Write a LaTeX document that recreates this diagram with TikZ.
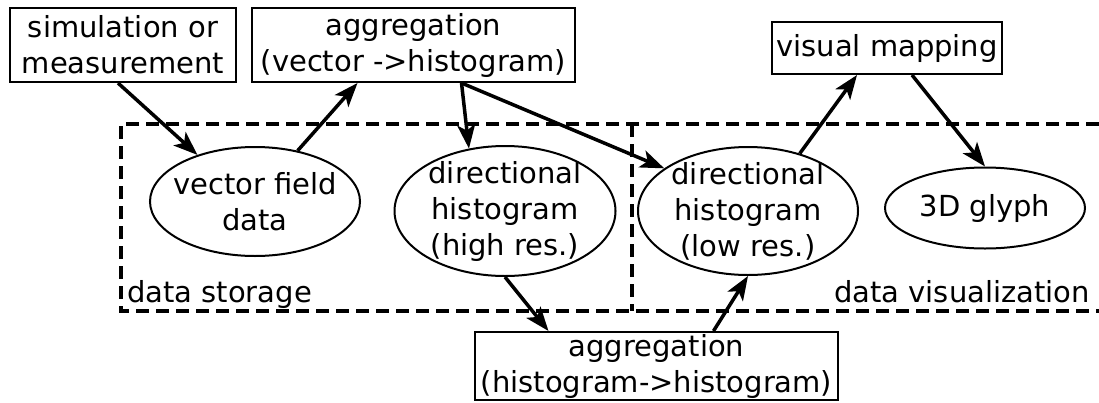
\documentclass[tikz,border=0pt]{standalone}
\usepackage{fontspec}
\setmainfont{DejaVu Sans}
\usetikzlibrary{arrows.meta,shapes.geometric}
\begin{document}
\begin{tikzpicture}[x=1pt,y=-1pt,
  every node/.style={font=\fontsize{29}{36}\selectfont},
  box/.style={draw, line width=2pt, rectangle, inner sep=0pt, align=center},
  oval/.style={draw, line width=2pt, ellipse, inner sep=-10pt, align=center},
  flowtip/.tip={Stealth[length=24pt 0, width=18pt 0, inset=6pt 0]},
  flow/.style={line width=3.5pt, -flowtip},
  region/.style={line width=4pt, dash pattern=on 13pt off 7pt},
  tag/.style={inner sep=0pt}]
\useasboundingbox (0,0) rectangle (1099,402);

% storage / visualization regions
\draw[region] (1099,124) -- (121,124) -- (121,311) -- (1099,311);
\draw[region] (632,124) -- (632,311);
\node[tag, anchor=base west] (lstore) at (127,302) {data storage};
\node[tag, anchor=base east] (lvis) at (1090,302) {data visualization};

% processing steps
\node[box, minimum width=226pt, minimum height=74pt] (b1) at (123,45) {simulation or\\measurement};
\node[box, minimum width=323pt, minimum height=74pt] (b2) at (413.5,45) {aggregation\\(vector ->histogram)};
\node[box, minimum width=230pt, minimum height=52pt] (vm) at (887,48) {visual mapping};
\node[box, minimum width=363pt, minimum height=68pt] (bb) at (656.5,366) {aggregation\\(histogram->histogram)};

% data items
\node[oval, minimum width=210pt, minimum height=109pt] (e1) at (255,201.5) {vector field\\data};
\node[oval, minimum width=221pt, minimum height=130pt] (e2) at (505,211) {directional\\histogram\\(high res.)};
\node[oval, minimum width=220pt, minimum height=128pt] (e3) at (748,211) {directional\\histogram\\(low res.)};
\node[oval, minimum width=200pt, minimum height=81pt] (e4) at (985,208) {3D glyph};

% data flow
\draw[flow] ([xshift=-5pt]b1.south) -- (e1.141);
\draw[flow] (e1.50) -- ([xshift=-56pt]b2.south);
\draw[flow] ([xshift=48pt]b2.south) -- (e2.120);
\draw[flow] ([xshift=48pt]b2.south) -- (e3.153);
\draw[flow] (e2.south) -- ([xshift=-108pt]bb.north);
\draw[flow] ([xshift=57pt]bb.north) -- (e3.south);
\draw[flow] (e3.48) -- ([xshift=-30pt]vm.south);
\draw[flow] ([xshift=25pt]vm.south) -- (e4.north);
\end{tikzpicture}
\end{document}
